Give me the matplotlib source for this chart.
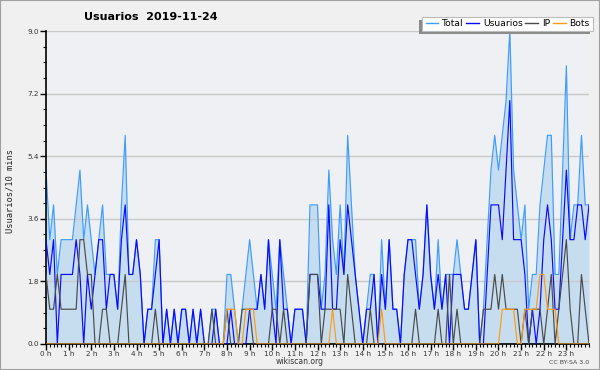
import matplotlib
matplotlib.use('Agg')
import matplotlib.pyplot as plt
from matplotlib.lines import Line2D
from matplotlib.patches import Rectangle

title = "Usuarios  2019-11-24"
hour_labels = [f"{h} h" for h in range(24)]
ytick_values = [0.0, 1.8, 3.6, 5.4, 7.2, 9.0]
ytick_labels = ["0.0", "1.8", "3.6", "5.4", "7.2", "9.0"]
series_names = ["Total", "Usuarios", "IP", "Bots"]

total = [5,3,4,2,3,3,3,3,4,5,
         3,4,3,2,3,4,2,2,2,1,
         4,6,2,2,3,2,0,1,1,3,
         3,0,1,0,1,0,1,1,0,1,
         0,1,0,0,1,1,0,0,2,2,
         1,0,1,2,3,2,1,2,1,3,
         2,1,3,2,1,0,1,1,1,0,
         4,4,4,1,2,5,3,2,4,2,
         6,4,2,1,0,1,2,2,0,3,
         1,3,1,1,0,2,3,3,3,1,
         2,4,2,1,3,1,2,2,2,3,
         2,1,1,2,3,0,1,3,5,6,
         5,6,7,9,5,4,3,4,1,2,
         2,4,5,6,6,2,2,5,8,3,
         4,4,6,4,4]

usuarios = [3,2,3,0,2,2,2,2,3,2,
            0,2,1,2,3,3,1,2,2,1,
            3,4,2,2,3,2,0,1,1,2,
            3,0,1,0,1,0,1,1,0,1,
            0,1,0,0,0,1,0,0,0,1,
            0,0,0,0,1,1,1,2,1,3,
            1,0,3,1,1,0,1,1,1,0,
            2,2,2,1,1,4,1,1,3,2,
            4,3,2,1,0,1,1,2,0,2,
            1,3,1,1,0,2,3,3,2,1,
            2,4,2,1,2,1,2,0,2,2,
            2,1,1,2,3,0,0,2,4,4,
            4,3,5,7,3,3,3,2,0,1,
            0,1,3,4,3,1,1,3,5,3,
            3,4,4,3,4]

ip = [2,1,1,2,1,1,1,1,1,3,
      3,2,2,0,0,1,1,0,0,0,
      1,2,0,0,0,0,0,0,0,1,
      0,0,0,0,0,0,0,0,0,0,
      0,0,0,0,1,0,0,0,1,0,
      0,0,1,1,1,0,0,0,0,0,
      1,1,0,1,0,0,0,0,0,0,
      2,2,2,0,1,1,1,1,1,0,
      2,1,0,0,0,0,1,0,0,0,
      0,0,0,0,0,0,0,0,1,0,
      0,0,0,0,1,0,0,2,0,1,
      0,0,0,0,0,0,1,1,1,2,
      1,2,1,1,1,1,0,1,0,1,
      1,1,0,1,2,0,1,2,3,1,
      0,0,2,1,0]

bots = [0,0,0,0,0,0,0,0,0,0,
        0,0,0,0,0,0,0,0,0,0,
        0,0,0,0,0,0,0,0,0,0,
        0,0,0,0,0,0,0,0,0,0,
        0,0,0,0,0,0,0,0,1,1,
        1,0,0,1,1,1,0,0,0,0,
        0,0,0,0,0,0,0,0,0,0,
        0,0,0,0,0,0,1,0,0,0,
        0,0,0,0,0,0,0,0,0,1,
        0,0,0,0,0,0,0,0,0,0,
        0,0,0,0,0,0,0,0,0,0,
        0,0,0,0,0,0,0,0,0,0,
        0,1,1,1,1,0,0,1,1,1,
        1,2,2,1,1,1,0,0,0,0,
        0,0,0,0,0]

W, H = 600, 370
fig = plt.figure(figsize=(W/100, H/100), dpi=100, facecolor='#f0f0f0')
fig.add_artist(Rectangle((0, 0), 1, 1, transform=fig.transFigure, fill=False,
                         edgecolor='#a0a0a0', lw=1.5, zorder=0))


def px_rect(x0, y0, x1, y1, **kw):
    # pixel box (top-left origin) -> figure fraction rectangle
    return Rectangle((x0 / W, 1 - y1 / H), (x1 - x0) / W, (y1 - y0) / H,
                     transform=fig.transFigure, **kw)


L, R, T, B = 46, 589, 31, 344
ax = fig.add_axes([L/W, 1-B/H, (R-L)/W, (B-T)/H])
ax.set_facecolor('#eef0f3')

x = list(range(len(total)))
colors = ['#3d9cff', '#0a0aff', '#4a4a4a', '#ff9a10']
ax.fill_between(x, total, 0, color='#c6ddf0', lw=0, zorder=1)
ax.plot(x, total, color=colors[0], lw=0.85, zorder=2)
ax.plot(x, usuarios, color=colors[1], lw=0.85, zorder=3)
ax.plot(x, ip, color=colors[2], lw=0.85, zorder=4)
ax.plot(x, bots, color=colors[3], lw=0.85, zorder=5)

ax.set_xlim(0, len(total) - 1)
ax.set_ylim(0, 9)
ax.set_axisbelow('line')
ax.set_yticks(ytick_values)
ax.set_yticklabels(ytick_labels)
ax.set_yticks([i * 0.45 for i in range(21)], minor=True)
ax.set_xticks([h * 6 for h in range(24)])
ax.set_xticklabels(hour_labels)
ax.set_xticks(range(0, len(total)), minor=True)
ax.yaxis.grid(True, which='major', color='#c9c9c9', lw=1)
for s in ['top', 'right']:
    ax.spines[s].set_visible(False)
for s in ['left', 'bottom']:
    ax.spines[s].set_color('black')
    ax.spines[s].set_linewidth(1.2)
ax.tick_params(axis='both', which='major', length=4, width=1, labelsize=5.2,
               pad=1, colors='black', labelcolor='#333333')
ax.tick_params(axis='both', which='minor', length=2.5, width=0.8, colors='black')

fig.text(151/W, 1-17/H, title, fontsize=8, fontweight='bold', ha='center', va='center')
fig.text(10/W, 1-191/H, "Usuarios/10 mins", rotation=90, family='DejaVu Sans Mono',
         fontsize=6.3, ha='center', va='center', color='#222222')
fig.text(300/W, 1-362/H, "wikiscan.org", fontsize=5.5, ha='center', va='center', color='#333333')
fig.text(569/W, 1-362/H, "CC BY-SA 3.0", fontsize=4.5, ha='center', va='center', color='#444444')

# legend box with shadow (shadow offset left/down)
fig.add_artist(px_rect(419, 20, 590, 34, facecolor='#8a8a8a', edgecolor='none', zorder=8))
fig.add_artist(px_rect(422, 17, 593, 31, facecolor='white', edgecolor='#bbbbbb',
                       lw=0.8, zorder=9))
handles = [Line2D([0], [0], color=c, lw=1.0) for c in colors]
leg = fig.legend(handles, series_names, loc='center', bbox_to_anchor=(507.5/W, 1-24/H),
                 ncol=4, fontsize=6.6, frameon=False, handlelength=1.4,
                 handletextpad=0.4, columnspacing=0.3, borderpad=0.0, borderaxespad=0)
leg.set_zorder(10)

fig.savefig('out.png', dpi=100, facecolor=fig.get_facecolor())
